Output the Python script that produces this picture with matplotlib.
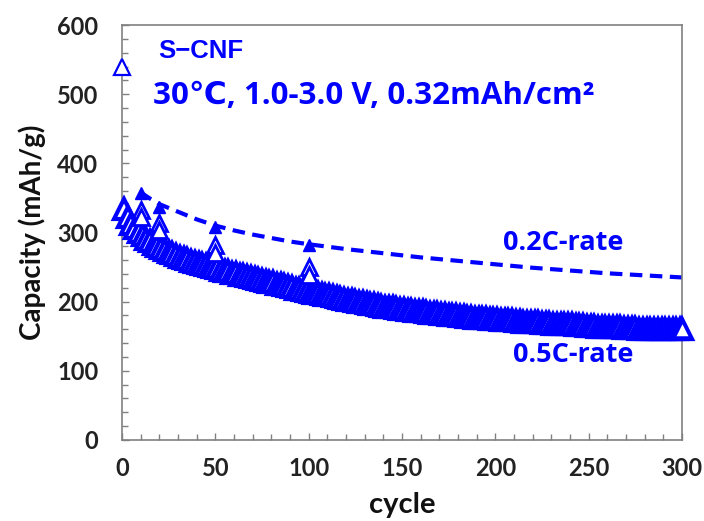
import numpy as np
import matplotlib
matplotlib.use("Agg")
import matplotlib.pyplot as plt
from matplotlib.ticker import MultipleLocator

# 0.5C-rate cycling (open triangles), first point at cycle 0
first_cycle = [0]
first_cap = [540]

cycles_05 = list(range(1, 300, 2)) + [300]
cap_05 = [
    334, 322, 313, 306, 300, 296, 291, 287, 284, 281,
    278, 275, 272, 270, 268, 265, 263, 261, 259, 258,
    256, 254, 253, 251, 250, 248, 246, 245, 244, 242,
    241, 239, 238, 237, 235, 234, 233, 232, 230, 229,
    228, 226, 225, 224, 222, 221, 219, 218, 217, 215,
    214, 213, 212, 211, 210, 209, 208, 207, 205, 204,
    203, 202, 201, 200, 199, 198, 197, 196, 195, 194,
    193, 193, 192, 191, 190, 189, 188, 188, 187, 186,
    186, 185, 184, 184, 183, 182, 182, 181, 180, 180,
    179, 179, 178, 178, 177, 177, 176, 176, 175, 175,
    175, 174, 174, 173, 173, 172, 172, 171, 171, 171,
    170, 170, 169, 169, 169, 168, 168, 168, 167, 167,
    167, 166, 166, 166, 165, 165, 165, 164, 164, 164,
    164, 163, 163, 163, 162, 162, 162, 162, 161, 161,
    161, 161, 160, 160, 160, 160, 160, 160, 160, 160,
    160,
]

# 0.2C check cycles
check_cycles = [10, 20, 50, 100]
check_open_hi = [333, 314, 282, 250]
check_open_lo = [323, 304, 270, 238]
check_filled = [357, 337, 308, 282]

# 0.2C-rate trend (dashed)
trend_cycles = [10, 15, 20, 30, 40, 50, 60, 70, 80, 90, 100, 120, 140,
                160, 180, 200, 220, 240, 260, 280, 300]
trend_cap = [358, 349, 341, 330, 319, 310, 303, 297, 292, 287, 283, 276, 270,
             264, 259, 254, 249, 245, 241, 238, 235]

blue = "#0000ff"
grey = "#808080"

fig = plt.figure(figsize=(7.04, 5.21), dpi=100)
ax = fig.add_axes([0.1733, 0.1555, 0.7955, 0.7965])

ax.plot(trend_cycles, trend_cap, color=blue, lw=3.0, dashes=(3.0, 1.8),
        zorder=2)
ax.plot(cycles_05, cap_05, ls="none", marker="^", ms=14, mfc="white",
        mec=blue, mew=3.0, clip_on=False, zorder=3)
ax.plot(cycles_05[-1:], cap_05[-1:], ls="none", marker="^", ms=12,
        mfc="white", mec=blue, mew=1.8, clip_on=False, zorder=3)
ax.plot(first_cycle, first_cap, ls="none", marker="^", ms=12, mfc="white",
        mec=blue, mew=1.6, clip_on=False, zorder=3)
ax.plot(check_cycles, check_open_hi, ls="none", marker="^", ms=12,
        mfc="white", mec=blue, mew=2.0, zorder=4)
ax.plot(check_cycles, check_open_lo, ls="none", marker="^", ms=12,
        mfc="white", mec=blue, mew=2.0, zorder=4)
ax.plot(check_cycles, check_filled, ls="none", marker="^", ms=9,
        color=blue, zorder=5)

ax.set_xlim(0, 300)
ax.set_ylim(0, 600)
ax.xaxis.set_major_locator(MultipleLocator(50))
ax.xaxis.set_minor_locator(MultipleLocator(10))
ax.yaxis.set_major_locator(MultipleLocator(100))
ax.yaxis.set_minor_locator(MultipleLocator(20))
ax.tick_params(which="both", direction="in", color=grey, width=1.0,
               top=False, right=False)
ax.tick_params(which="major", length=5)
ax.tick_params(which="minor", length=4)
ax.tick_params(axis="y", which="major", pad=17)
ax.tick_params(axis="x", which="major", pad=12)
for s in ax.spines.values():
    s.set_color(grey)
    s.set_linewidth(1.2)

for lab in ax.get_xticklabels() + ax.get_yticklabels():
    lab.set_fontfamily("Lato")
    lab.set_fontweight("bold")
    lab.set_fontsize(17)
    lab.set_color("#222222")

ax.set_xlabel("cycle", fontfamily="Lato", fontweight="bold", fontsize=21,
              color="#111111", labelpad=9)
ax.set_ylabel("Capacity (mAh/g)", fontfamily="Lato", fontweight="bold",
              fontsize=20, color="#111111", labelpad=8)

ax.text(0.064, 0.937, "S\u2212CNF", transform=ax.transAxes, color=blue,
        fontfamily="Liberation Sans", fontweight="bold", fontsize=18.5,
        va="center", ha="left")
ax.text(0.055, 0.83, "30\u2103, 1.0-3.0 V, 0.32mAh/cm\u00b2",
        transform=ax.transAxes, color=blue,
        fontfamily=["Open Sans", "DejaVu Sans"], fontweight="bold",
        fontsize=22.5, va="center", ha="left")
ax.text(0.68, 0.475, "0.2C-rate", transform=ax.transAxes, color=blue,
        fontfamily="Open Sans", fontweight="bold", fontsize=19.5,
        va="center", ha="left")
ax.text(0.698, 0.205, "0.5C-rate", transform=ax.transAxes, color=blue,
        fontfamily="Open Sans", fontweight="bold", fontsize=19.5,
        va="center", ha="left")

fig.savefig("out.png", dpi=100)
